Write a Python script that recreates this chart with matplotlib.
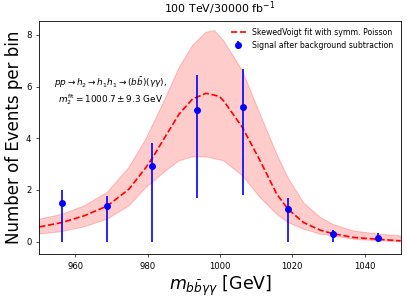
import matplotlib
matplotlib.use('Agg')
import matplotlib.pyplot as plt
import numpy as np

# binned signal after background subtraction
m_bins = [956.25, 968.75, 981.25, 993.75, 1006.25, 1018.75, 1031.25, 1043.75]
events = [1.51, 1.36, 2.91, 5.08, 5.23, 1.27, 0.30, 0.13]
err_lo = [1.51, 1.36, 2.91, 3.40, 3.42, 1.27, 0.30, 0.13]
err_hi = [0.50, 0.42, 0.90, 1.38, 1.45, 0.41, 0.15, 0.22]

# fitted curve
m_fit = [950, 956.3, 962.4, 968.8, 974.8, 979.5, 981.4, 985, 988.7, 992.4, 996.1,
         997.3, 999.8, 1001, 1006.2, 1011.1, 1015.7, 1018.8, 1023.1, 1027.8,
         1031.2, 1037, 1043.8, 1050]
fit = [0.57, 0.74, 1.00, 1.38, 2.03, 2.87, 3.26, 4.10, 4.94, 5.52, 5.74,
       5.71, 5.62, 5.45, 4.42, 3.13, 1.84, 1.26, 0.74, 0.44,
       0.31, 0.16, 0.09, 0.03]

# uncertainty band
m_up = [950, 956.3, 962.4, 968.8, 974.8, 979.5, 985, 988.7, 992.4, 996.1, 998.5,
        1001, 1006.2, 1011.1, 1015.7, 1018.8, 1023.1, 1027.8, 1031.2, 1037,
        1043.8, 1050]
band_up = [0.87, 1.06, 1.38, 1.90, 2.87, 3.97, 5.58, 6.74, 7.59, 8.10, 8.17,
           7.78, 6.62, 4.94, 3.39, 2.48, 1.51, 0.93, 0.67, 0.41, 0.29, 0.22]
m_lo = [950, 956.3, 962.4, 968.8, 974.8, 979.5, 985, 988.7, 992.4, 996.1, 1001,
        1006.2, 1011.1, 1015.7, 1018.8, 1023.1, 1027.8, 1031.2, 1037, 1043.8, 1050]
band_lo = [0.29, 0.39, 0.57, 0.87, 1.38, 2.09, 2.74, 3.13, 3.28, 3.28, 3.13,
           2.55, 1.71, 1.06, 0.74, 0.48, 0.29, 0.22, 0.09, 0.03, 0.0]

fig = plt.figure(figsize=(4.07, 3.0), dpi=100)
ax = fig.add_axes([0.0966, 0.1533, 0.8879, 0.7767])

ax.fill(np.r_[m_up, m_lo[::-1]], np.r_[band_up, band_lo[::-1]],
        color='red', alpha=0.2, lw=0.8)
ax.plot(m_fit, fit, 'r--', lw=1.2, label='SkewedVoigt fit with symm. Poisson')
ax.errorbar(m_bins, events, yerr=[err_lo, err_hi], fmt='bo', ms=4,
            elinewidth=1.2, label='Signal after background subtraction')

ax.text(969.7, 5.84, r'$pp \rightarrow h_2 \rightarrow h_1 h_1 \rightarrow (b\bar{b})(\gamma\gamma)$,'
        '\n' r'$m_2^{\rm fit} = 1000.7 \pm 9.3$ GeV',
        ha='center', va='center', multialignment='center', fontsize=6.4)

ax.set_xlim(950, 1050)
ax.set_ylim(-0.48, 8.54)
ax.set_yticks([0, 2, 4, 6, 8])
ax.tick_params(labelsize=6.1, width=0.5, length=2.2)
for s in ax.spines.values():
    s.set_linewidth(0.6)
ax.set_xlabel(r'$m_{b\bar{b}\gamma\gamma}$ [GeV]', fontsize=12.5, labelpad=2)
ax.set_ylabel('Number of Events per bin', fontsize=12, labelpad=2)
ax.set_title(r'100 TeV/30000 fb$^{-1}$', fontsize=7.9)
ax.legend(loc='upper right', fontsize=5.6, frameon=False)

fig.savefig('out.png', dpi=100)
